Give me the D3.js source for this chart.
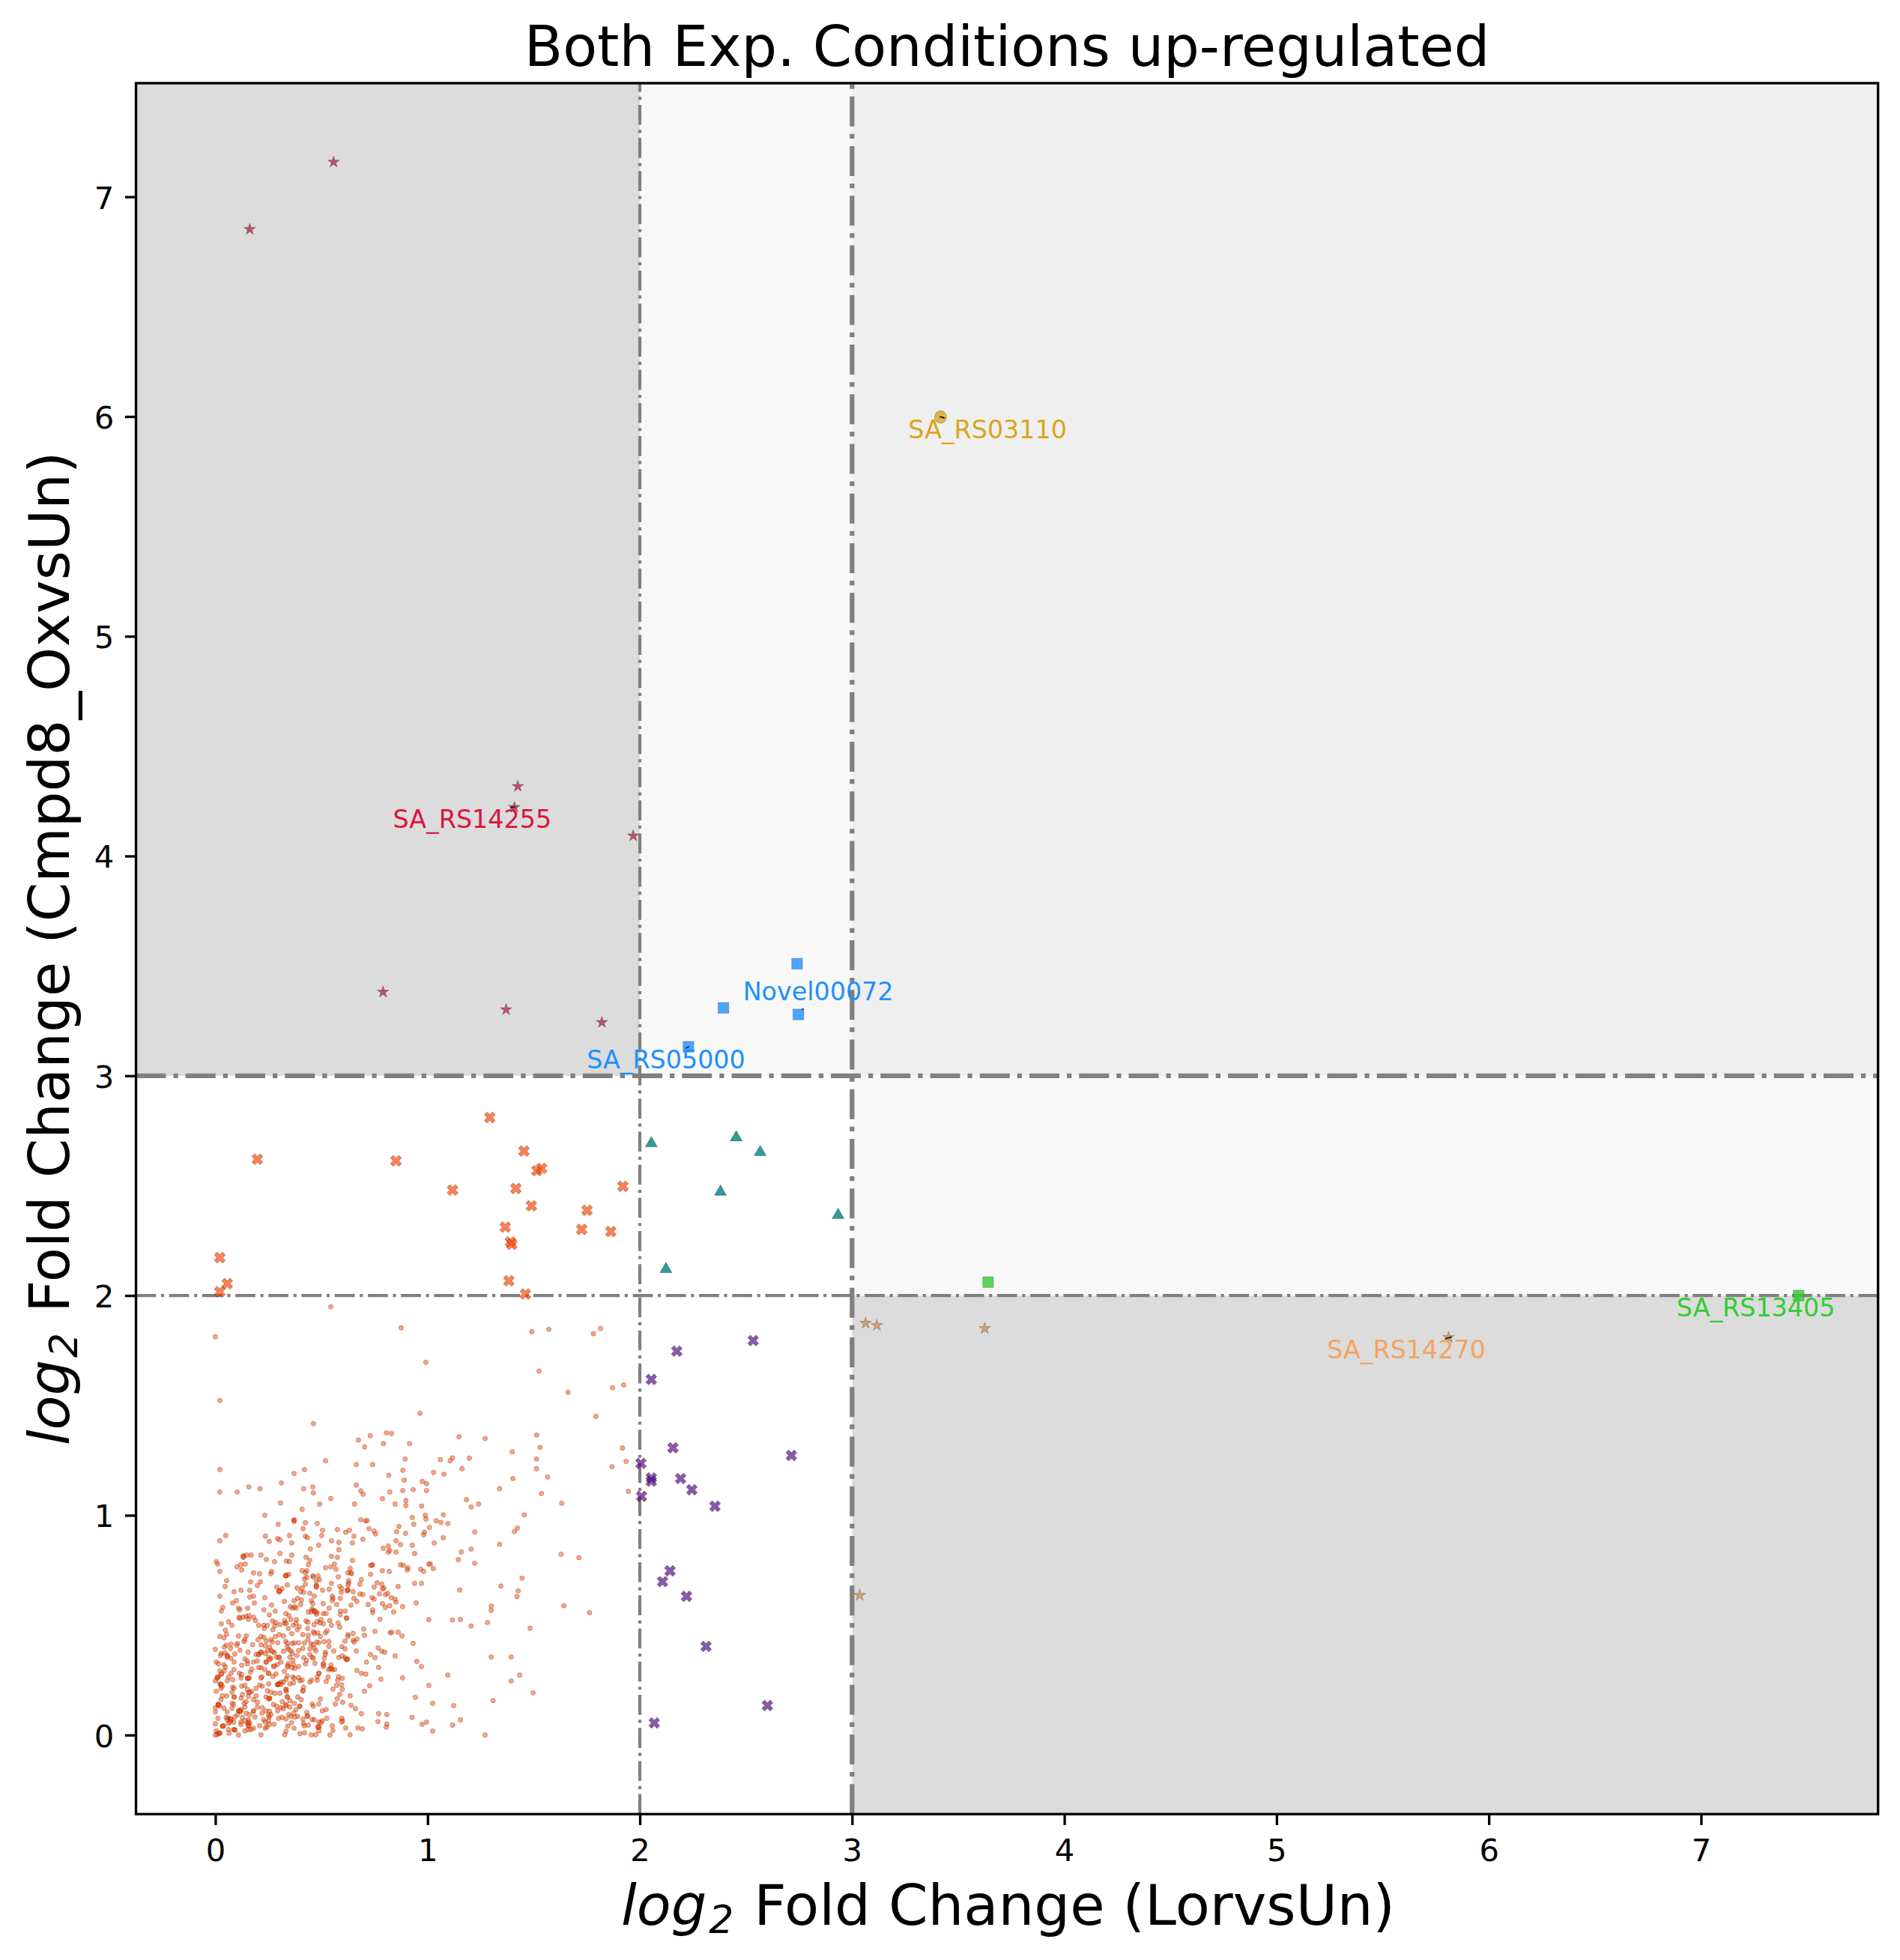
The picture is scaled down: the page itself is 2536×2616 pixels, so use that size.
<!DOCTYPE html>
<html>
<head>
<meta charset="utf-8">
<script src="https://cdn.jsdelivr.net/npm/d3@7"></script>
<style>
  body { margin: 0; background: #fff; }
  text { font-family: "DejaVu Sans"; }
</style>
</head>
<body>
<div id="canvas"></div>
<script>
// [log2FC LorvsUn, log2FC Cmpd8_OxvsUn]
var dotsLow = [[.028,.506],[.062,.515],[.078,.499],[.114,.531],[.156,.527],[.189,.521],[.204,.499],[.228,.499],[.231,.485],[.245,.499],[.269,.519],[.284,.512],[.28,.496],[.271,.479],[.304,.502],[.327,.508],[.327,.521],[.344,.485],[.356,.525],[.368,.499],[.38,.508],[.386,.479],[.395,.493],[.382,.525],[.427,.519],[.436,.513],[.435,.485],[.465,.502],[.48,.517],[.493,.51],[.509,.506],[.498,.525],[.539,.521],[.547,.499],[.579,.51],[.586,.491],[.618,.531],[.699,.482],[.776,.527],[.752,.472],[1.006,.525],[.047,.478],
[.021,.449],[.053,.459],[.041,.442],[.109,.451],[.146,.451],[.139,.434],[.135,.426],[.215,.448],[.228,.445],[.201,.434],[.24,.428],[.262,.434],[.282,.448],[.301,.457],[.321,.451],[.268,.423],[.294,.42],[.331,.426],[.36,.461],[.412,.457],[.438,.454],[.462,.47],[.466,.462],[.482,.465],[.495,.449],[.519,.465],[.527,.474],[.436,.434],[.419,.419],[.392,.42],[.372,.419],[.362,.417],[.339,.417],[.478,.423],[.488,.42],[.512,.425],[.535,.426],[.625,.457],[.649,.462],[.625,.448],[.667,.437],[.649,.431],[.654,.423],[.611,.427],[.702,.454],[.824,.465],[.831,.468],[.861,.468],[.879,.451],[.932,.417],
[0,.39],[.051,.409],[.074,.414],[.042,.4],[.104,.417],[.101,.408],[.176,.411],[.215,.411],[.235,.406],[.256,.4],[.154,.377],[.116,.386],[.092,.369],[.071,.394],[.028,.371],[.045,.374],[.056,.362],[.204,.366],[.215,.377],[.192,.366],[.262,.385],[.278,.375],[.245,.383],[.235,.371],[.321,.381],[.339,.4],[.345,.389],[.356,.383],[.362,.371],[.392,.385],[.412,.394],[.445,.392],[.451,.415],[.462,.411],[.466,.396],[.474,.383],[.445,.366],[.519,.377],[.518,.366],[.535,.403],[.558,.383],[.596,.402],[.611,.392],[.664,.383],[.731,.366],[.767,.396],[.784,.381],[.798,.377],[.847,.36],
[.004,.332],[.015,.324],[.024,.362],[.056,.354],[.074,.349],[.088,.332],[.124,.318],[.139,.346],[.151,.337],[.151,.324],[.18,.332],[.198,.337],[.239,.332],[.251,.354],[.262,.349],[.289,.354],[.301,.354],[.309,.332],[.292,.32],[.274,.312],[.256,.343],[.351,.354],[.345,.326],[.368,.32],[.366,.34],[.392,.311],[.424,.324],[.416,.352],[.456,.354],[.462,.349],[.469,.326],[.513,.349],[.509,.326],[.509,.312],[.582,.353],[.598,.36],[.611,.351],[.618,.343],[.624,.345],[.712,.332],[.752,.352],[.949,.335],[.971,.311],[.769,.308],[.545,.318],[.041,.32],[.047,.309],[.374,.303],[.215,.306],[.204,.307],[.233,.298],[.341,.315],[.36,.307],
[.021,.292],[.012,.264],[.009,.258],[0,.247],[.027,.275],[.042,.292],[.074,.281],[.088,.298],[.062,.264],[.113,.281],[.124,.275],[.121,.26],[.156,.258],[.151,.258],[.165,.286],[.172,.3],[.219,.264],[.215,.26],[.251,.281],[.271,.267],[.286,.278],[.325,.29],[.339,.269],[.365,.264],[.371,.258],[.392,.261],[.409,.25],[.488,.281],[.48,.264],[.48,.249],[.531,.264],[.542,.303],[.551,.298],[.562,.298],[.533,.298],[.454,.25],[.58,.265],[.598,.258],[.576,.249],[.667,.294],[.688,.281],[.709,.277],[.78,.254],[.882,.26],[.082,.252],[.056,.247],[.333,.254],[.309,.241],
[.004,.199],[.021,.233],[.027,.229],[.027,.212],[.033,.222],[.082,.218],[.088,.212],[.078,.195],[.124,.222],[.139,.226],[.151,.207],[.156,.193],[.171,.198],[.192,.212],[.209,.227],[.221,.222],[.251,.233],[.292,.229],[.298,.233],[.321,.241],[.351,.233],[.368,.237],[.415,.218],[.413,.201],[.398,.247],[.333,.207],[.335,.198],[.245,.201],[.262,.195],[.28,.19],[.304,.19],[.445,.241],[.522,.244],[.571,.226],[.594,.229],[.598,.208],[.554,.209],[.702,.199],[.727,.224],[1.006,.226],
[.033,.178],[.053,.178],[.089,.173],[.127,.184],[.121,.167],[.156,.176],[.18,.161],[.198,.15],[.192,.178],[.239,.173],[.256,.167],[.251,.164],[.274,.139],[.315,.152],[.339,.173],[.351,.156],[.333,.139],[.388,.173],[.404,.161],[.027,.161],[.013,.139],[.021,.133],[.08,.144],[.086,.139],[.136,.144],[.145,.152],[.495,.164],[.487,.141],[.456,.141],[.586,.185],[.574,.165],[.6,.149],[.565,.141],[.635,.178],[.942,.172],[1.024,.144],[.639,.135],
[0,.125],[.041,.122],[0,.105],[.056,.105],[.078,.122],[.109,.11],[.115,.108],[.121,.116],[.145,.099],[.139,.127],[.162,.093],[.18,.108],[.198,.127],[.221,.124],[.239,.11],[.256,.108],[.262,.093],[.288,.131],[.309,.125],[.333,.133],[.351,.127],[.294,.11],[.398,.131],[.38,.116],[.372,.144],[.346,.093],[.388,.085],[.374,.082],[.356,.084],[.298,.076],[.315,.08],[.333,.073],[.253,.082],[.186,.082],[.127,.08],[.104,.093],[.092,.082],[.062,.078],[.051,.08],[.012,.076],[.462,.131],[.504,.11],[.522,.116],[.431,.103],[.434,.086],[.66,.12],[.688,.097],[.769,.097],[.808,.093],[.927,.08],
[0,.051],[.033,.04],[.039,.042],[.056,.07],[.071,.073],[.062,.053],[.086,.059],[.121,.059],[.121,.048],[.156,.07],[.151,.053],[.156,.042],[.162,.053],[.18,.031],[.209,.042],[.227,.07],[.235,.059],[.251,.065],[.254,.048],[.242,.036],[.235,.031],[.276,.049],[.359,.056],[.341,.04],[.371,.031],[.413,.073],[.415,.053],[.419,.042],[.438,.045],[.456,.07],[.466,.07],[.488,.059],[.504,.065],[.525,.076],[.482,.036],[.488,.036],[.498,.056],[.004,.019],[.021,.008],[.009,.002],[0,0],[.015,.01],[.062,.025],[.065,.008],[.086,.025],[.092,.023],[.109,0],[.139,.019],[.156,.025],[.168,.025],[.215,.001],[.333,.017],[.327,.001],[.399,.006],[.421,.01],[.452,.001],[.473,.001],[.488,.019],[.54,0],[.551,.042],[.554,.02],[.595,.076],[.6,.065],[.594,.059],[.614,.032],[.635,.001],[.671,.032],[.692,.028],[.766,.061],[.808,.05],[.805,.036],[.974,.049],[.995,.059],[1.024,.018]];

var dotsMid = [[.307,1.056],[.491,1.051],[.544,1.076],[.656,1.051],[.787,1.076],[.847,1.051],[.898,1.067],[.898,1.044],[.972,1.042],[.409,1.027],[.233,1.0],[.371,.98],[.371,.972],[.296,.959],[.424,.966],[.48,.963],[.685,.98],[.707,.974],[.716,.976],[.928,.99],[.989,1.0],[.992,.983],[.935,.959],[.865,.949],[.413,.939],[.505,.932],[.575,.935],[.614,.923],[.632,.932],[.724,.939],[.748,.928],[.755,.915],[.854,.925],[.896,.918],[.985,.923],[.981,.911],[1.009,.945],[.049,.908],[.021,.884],[.236,.905],[.254,.881],[.293,.894],[.304,.888],[.349,.908],[.36,.874],[.424,.905],[.434,.898],[.501,.908],[.547,.884],[.582,.877],[.653,.905],[.646,.874],[.695,.891],[.851,.884],[.872,.867],[.928,.864],[.487,.864],[.448,.847],[.582,.843],[.791,.85],[.815,.86],[.815,.833],[.822,.84],[.851,.833],[.939,.826],[1.031,.874],
[.131,.816],[.131,.808],[.148,.819],[.169,.819],[.215,.819],[.24,.799],[.304,.826],[.36,.819],[.427,.809],[.445,.795],[.547,.813],[.575,.809],[.646,.795],[.004,.789],[.011,.778],[.141,.778],[.12,.775],[.102,.765],[.279,.789],[.335,.792],[.349,.789],[.438,.775],[.561,.778],[.519,.761],[.544,.765],[.568,.755],[.635,.758],[.731,.772],[.741,.775],[.872,.775],[.886,.772],[.907,.761],[.904,.751],[.967,.755],[.981,.744],[1.013,.778],[1.006,.778],[1.027,.758],
[.021,.744],[.124,.751],[.18,.738],[.208,.734],[.261,.734],[.265,.744],[.331,.724],[.335,.727],[.346,.731],[.409,.748],[.431,.748],[.424,.738],[.625,.738],[.639,.738],[.642,.734],[.731,.731],[.787,.748],[.819,.744],[.459,.724],[.462,.72],[.484,.724],[.579,.72],[.431,.717],[.42,.71],[.491,.707],[.476,.7],[.688,.707],
[.053,.703],[.166,.697],[.212,.697],[.198,.68],[.046,.676],[.339,.683],[.424,.686],[.476,.68],[.476,.673],[.547,.69],[.628,.703],[.628,.69],[.625,.683],[.681,.686],[.762,.693],[.784,.686],[.939,.69],[.971,.69],[.861,.676],[.289,.673],[.385,.669],[.409,.669],[.586,.676],[.748,.673],[.794,.669],[.787,.665],[.596,.666],[.625,.661],[.621,.656],[.088,.652],[.12,.659],[.162,.659],[.314,.666],[.304,.656],[.3,.652],[.505,.659],[.536,.663],[.402,.652],[.416,.649],[.445,.645],[.593,.649],[.649,.652],[.681,.642],[.695,.639],[.773,.642],[.801,.639],[.812,.645],[.466,.632],[.551,.632],[.554,.622],[.021,.632],[.162,.628],[.18,.632],[.233,.625],[.388,.622],[.406,.615],[.371,.611],[.325,.608],[.452,.611],[.589,.622],[.653,.622],[.667,.608],[.738,.625],[.748,.618],[.829,.625],[.847,.618],[.851,.605],[.551,.611],[.099,.611],[.081,.601],[.184,.601],[.459,.598],[.402,.594],[.508,.598],[.572,.594],[.639,.591],[.72,.594],[.787,.598],[.822,.588],[.882,.584],[.946,.601],
[.035,.581],[.028,.564],[.109,.577],[.116,.57],[.152,.577],[.265,.591],[.353,.584],[.364,.577],[.374,.584],[.381,.577],[.229,.57],[.455,.574],[.462,.567],[.438,.56],[.452,.56],[.469,.564],[.48,.557],[.476,.55],[.536,.577],[.589,.564],[.611,.564],[.741,.57],[.741,.557],[.801,.581],[.84,.56],[.282,.564],[.508,.553],[.522,.553],[.589,.547],[.254,.547],[.332,.553],[.346,.543],[.113,.536],[.131,.536],[.145,.54],[.159,.543],[.18,.536],[.618,.533]];

var dotsHigh = [[.544,1.949],[.875,1.853],[0,1.812],[1.491,1.835],[1.571,1.846],[1.781,1.826],[1.815,1.85],[.992,1.696],[1.525,1.656],[1.662,1.56],[1.871,1.58],[1.924,1.593],[.021,1.522],[.964,1.464],[1.793,1.45],[.462,1.417],[1.514,1.365],[1.53,1.309],[1.148,1.357],[1.271,1.349],[.806,1.375],[.83,1.372],[.73,1.362],[.674,1.342],[.703,1.311],[.792,1.326],[.915,1.326],[1.399,1.289],[1.918,1.306],[1.513,1.256],[1.935,1.245],[1.869,1.221],[1.513,1.212],[.894,1.256],[1.06,1.253],[1.117,1.261],[1.106,1.248],[1.197,1.26],[1.162,1.212],[.519,1.248],[.664,1.231],[.741,1.231],[.42,1.208],[.371,1.19],[.021,1.208],[.883,1.205],[1.028,1.195],[1.077,1.187],[1.402,1.167],[1.565,1.174],[.817,1.182],[.311,1.147],[.89,1.16],[.975,1.154],[.995,1.144],[.416,1.121],[.459,1.129],[.158,1.129],[.211,1.121],[.103,1.106],[.021,1.106],[.462,1.102],[.664,1.137],[.685,1.111],[.696,1.096],[.822,1.106],[.883,1.112],[.932,1.117],[.995,1.112],[1.339,1.121],[1.946,1.109],[1.536,1.099]];

var dotsRight = [[1.183,1.071],[1.205,1.038],[1.24,1.051],[1.632,1.055],[1.456,1.002],[1.041,.975],[1.074,1.002],[1.063,.967],[1.095,.962],[1.074,.898],[1.222,.924],[1.423,.942],[1.409,.926],[1.339,.868],[1.159,.833],[1.205,.846],[1.145,.798],[1.222,.782],[1.629,.823],[1.713,.807],[1.445,.714],[1.345,.678],[1.427,.656],[1.421,.63],[1.151,.66],[1.642,.588],[1.763,.557],[1.3,.587],[1.3,.567],[1.282,.512],[1.205,.496],[1.155,.526],[1.117,.524],[1.483,.486],[1.3,.355],[1.394,.355],[1.095,.273],[1.394,.246],[1.434,.273],[1.497,.192],[1.309,.157],[1.123,.134],[1.155,.069],[1.118,.045],[1.271,0]];

// points lying on top of another one, the dark spots in the cloud
var dotsOverlap = [[.013,.139],[.015,.136],[.056,.36],[.204,.368],[.215,.377],[.294,.23],[.298,.231],[.035,.04],[.113,.11],[.089,.173],[.251,.281],[.434,.086],[.488,.281],[.156,.059],[.156,.042],[.333,.207],[.339,.173],[.278,.314],[.009,.264],[.027,.23],[.256,.167],[.162,.195],[.298,.354],[.384,.362],[.545,.303],[.412,.201],[.074,.07],[.092,.023],[.021,.008],[.239,.332],[.398,.131],[.151,.258],[.509,.32],[.618,.345],[.488,.036],[.333,.508],[.331,.725],[.3,.654],[.476,.677],[.371,.976],[.623,.659],[.738,.773],[.133,.812],[.47,.56],[.12,.108],[.14,.065],[.18,.11],[.07,.06],[.03,.28],[.16,.26],[.22,.1],[.25,.09],[.31,.23],[.34,.31],[.27,.38],[.43,.34],[.32,.12],[.37,.1]];

var yOnlyUp = [[1.293,2.81],[.198,2.62],[.851,2.613],[1.454,2.657],[1.515,2.568],[1.537,2.579],[1.118,2.48],[1.416,2.487],[1.92,2.497],[1.489,2.408],[1.751,2.388],[1.366,2.311],[1.726,2.301],[1.863,2.291],[1.39,2.244],[1.397,2.233],[.021,2.172],[1.383,2.067],[.056,2.054],[.021,2.017],[1.461,2.007]];
var bothMid = [[2.054,2.692],[2.454,2.719],[2.567,2.652],[2.38,2.472],[2.934,2.366],[2.123,2.12]];
var xOnlyUp = [[2.534,1.795],[2.174,1.747],[2.054,1.618],[2.156,1.307],[2.714,1.272],[2.005,1.236],[2.054,1.17],[2.054,1.155],[2.192,1.167],[2.245,1.116],[2.354,1.041],[2.008,1.086],[2.142,.747],[2.107,.698],[2.22,.631],[2.312,.403],[2.601,.134],[2.068,.055]];
var cmpdHigh = [[.162,6.852],[.557,7.158],[1.425,4.317],[1.409,4.222],[1.969,4.092],[.79,3.381],[1.37,3.301],[1.821,3.243]];
var cmpdMid = [[2.741,3.51],[2.394,3.309],[2.747,3.279],[2.229,3.132]];
var lorHigh = [[3.064,1.874],[3.117,1.864],[3.625,1.85],[5.811,1.809],[3.036,.636]];
var lorMid = [[3.641,2.061],[7.46,2.0]];
var bothHigh = [[3.417,5.998]];

var geneNames = ['SA_RS03110', 'SA_RS14255', 'SA_RS05000', 'Novel00072', 'SA_RS14270', 'SA_RS13405'];
var geneColors = ['#daa520', '#dc143c', '#1e90ff', '#1e90ff', '#f4a460', '#32cd32'];
var geneX = [3.265, .837, 1.75, 2.486, 5.238, 6.885];
var geneY = [5.902, 4.129, 3.035, 3.345, 1.715, 1.905];
// bits of the adjustText arrows that stick out from under the labels
var arrowBits = [[3.413, 6.0, 3.436, 5.993], [1.389, 4.219, 1.413, 4.224], [2.216, 3.125, 2.232, 3.133], [2.765, 3.3, 2.771, 3.306], [5.793, 1.803, 5.825, 1.811]];

var xTicks = [0, 1, 2, 3, 4, 5, 6, 7];
var yTicks = [0, 1, 2, 3, 4, 5, 6, 7];
var xCut = [2, 3];
var yCut = [2, 3];
var xMin = -.374, xMax = 7.834, yMin = -.36, yMax = 7.517;
// background regions [x0, x1, y0, y1, colour]
var regions = [
  [xMin, 2, 3, yMax, '#dcdcdc'],
  [2, 3, 3, yMax, '#f8f8f8'],
  [3, xMax, 3, yMax, '#efefef'],
  [3, xMax, 2, 3, '#f8f8f8'],
  [3, xMax, yMin, 2, '#dcdcdc']
];

var svg = d3.select('#canvas').append('svg')
  .attr('width', 2536)
  .attr('height', 2616);

var x = d3.scaleLinear().domain([xMin, xMax]).range([181.5, 2506.7]);
var y = d3.scaleLinear().domain([yMin, yMax]).range([2421.3, 111]);

svg.selectAll('rect.region').data(regions).enter().append('rect')
  .attr('class', 'region')
  .attr('x', function(d) { return x(d[0]); })
  .attr('y', function(d) { return y(d[3]); })
  .attr('width', function(d) { return x(d[1]) - x(d[0]); })
  .attr('height', function(d) { return y(d[2]) - y(d[3]); })
  .attr('fill', function(d) { return d[4]; });

// cut-off lines, the second of each pair is thicker
var cutStyle = [{w: 4.17, dash: '26.7,6.67,4.17,6.67'}, {w: 6.25, dash: '40,10,6.25,10'}];
yCut.forEach(function(v, i) {
  svg.append('line')
    .attr('x1', x(xMin)).attr('x2', x(xMax))
    .attr('y1', y(v)).attr('y2', y(v))
    .attr('stroke', '#808080').attr('stroke-width', cutStyle[i].w).attr('stroke-dasharray', cutStyle[i].dash);
});
xCut.forEach(function(v, i) {
  svg.append('line')
    .attr('x1', x(v)).attr('x2', x(v))
    .attr('y1', y(yMin)).attr('y2', y(yMax))
    .attr('stroke', '#808080').attr('stroke-width', cutStyle[i].w).attr('stroke-dasharray', cutStyle[i].dash);
});

function drawPoints(data, type, size, fill, fillOpacity, rotate) {
  svg.append('g').selectAll('path').data(data).enter().append('path')
    .attr('d', d3.symbol().type(type).size(size))
    .attr('transform', function(d) {
      return 'translate(' + x(d[0]) + ',' + y(d[1]) + ')' + (rotate ? ' rotate(' + rotate + ')' : '');
    })
    .attr('fill', fill)
    .attr('fill-opacity', fillOpacity)
    .attr('stroke', '#000')
    .attr('stroke-opacity', .22)
    .attr('stroke-width', 1);
}

var dots = dotsLow.concat(dotsMid, dotsHigh, dotsRight, dotsOverlap);
drawPoints(dots, d3.symbolCircle, 31, '#ff4500', .5);
drawPoints(yOnlyUp, d3.symbolCross, 135, '#ff4500', .68, 45);
drawPoints(xOnlyUp, d3.symbolCross, 135, '#4b0082', .65, 45);
drawPoints(bothMid, d3.symbolTriangle, 115, '#008080', .8);
drawPoints(cmpdHigh, d3.symbolStar, 75, '#a60b2d', .65);
drawPoints(lorHigh, d3.symbolStar, 75, '#cd853f', .7);
drawPoints(cmpdMid, d3.symbolSquare, 205, '#1e90ff', .8);
drawPoints(lorMid, d3.symbolSquare, 205, '#32cd32', .8);
drawPoints(bothHigh, d3.symbolCircle, 210, '#daa520', .8);

svg.selectAll('line.arrow').data(arrowBits).enter().append('line')
  .attr('class', 'arrow')
  .attr('x1', function(d) { return x(d[0]); })
  .attr('y1', function(d) { return y(d[1]); })
  .attr('x2', function(d) { return x(d[2]); })
  .attr('y2', function(d) { return y(d[3]); })
  .attr('stroke', '#222').attr('stroke-width', 2);

svg.selectAll('text.gene').data(geneNames).enter().append('text')
  .attr('class', 'gene')
  .attr('x', function(d, i) { return x(geneX[i]); })
  .attr('y', function(d, i) { return y(geneY[i]); })
  .attr('font-size', 33.33)
  .attr('fill', function(d, i) { return geneColors[i]; })
  .text(function(d) { return d; });

// axes
var xAxis = svg.append('g').attr('transform', 'translate(0,' + y(yMin) + ')')
  .call(d3.axisBottom(x).tickValues(xTicks).tickFormat(d3.format('d')).tickSize(14.6).tickPadding(14.6));
var yAxis = svg.append('g').attr('transform', 'translate(' + x(xMin) + ',0)')
  .call(d3.axisLeft(y).tickValues(yTicks).tickFormat(d3.format('d')).tickSize(14.6).tickPadding(14.6));
[xAxis, yAxis].forEach(function(a) {
  a.select('.domain').remove();
  a.selectAll('.tick line').attr('stroke', '#000').attr('stroke-width', 3.33);
  a.selectAll('.tick text').attr('font-size', 41.67).attr('font-family', 'DejaVu Sans').attr('fill', '#000');
});
xAxis.selectAll('.tick text').attr('dy', '.8em');
yAxis.selectAll('.tick text').attr('dy', '.37em');

svg.append('rect')
  .attr('x', x(xMin)).attr('y', y(yMax))
  .attr('width', x(xMax) - x(xMin)).attr('height', y(yMin) - y(yMax))
  .attr('fill', 'none').attr('stroke', '#000').attr('stroke-width', 3.33);

svg.append('text')
  .attr('x', 1344).attr('y', 88)
  .attr('text-anchor', 'middle').attr('font-size', 75)
  .text('Both Exp. Conditions up-regulated');

function axisLabel(node, rest) {
  node.attr('text-anchor', 'middle').attr('font-size', 75);
  node.append('tspan').attr('font-style', 'italic').text('log');
  node.append('tspan').attr('font-style', 'italic').attr('font-size', 52).attr('dy', 11).attr('dx', 3).text('2');
  node.append('tspan').attr('dy', -11).attr('dx', 3).attr('font-size', 75.4).text(' Fold Change (' + rest + ')');
}
axisLabel(svg.append('text').attr('x', 1345.5).attr('y', 2569), 'LorvsUn');
axisLabel(svg.append('text').attr('transform', 'translate(92,1266) rotate(-90)'), 'Cmpd8_OxvsUn');
</script>
</body>
</html>
